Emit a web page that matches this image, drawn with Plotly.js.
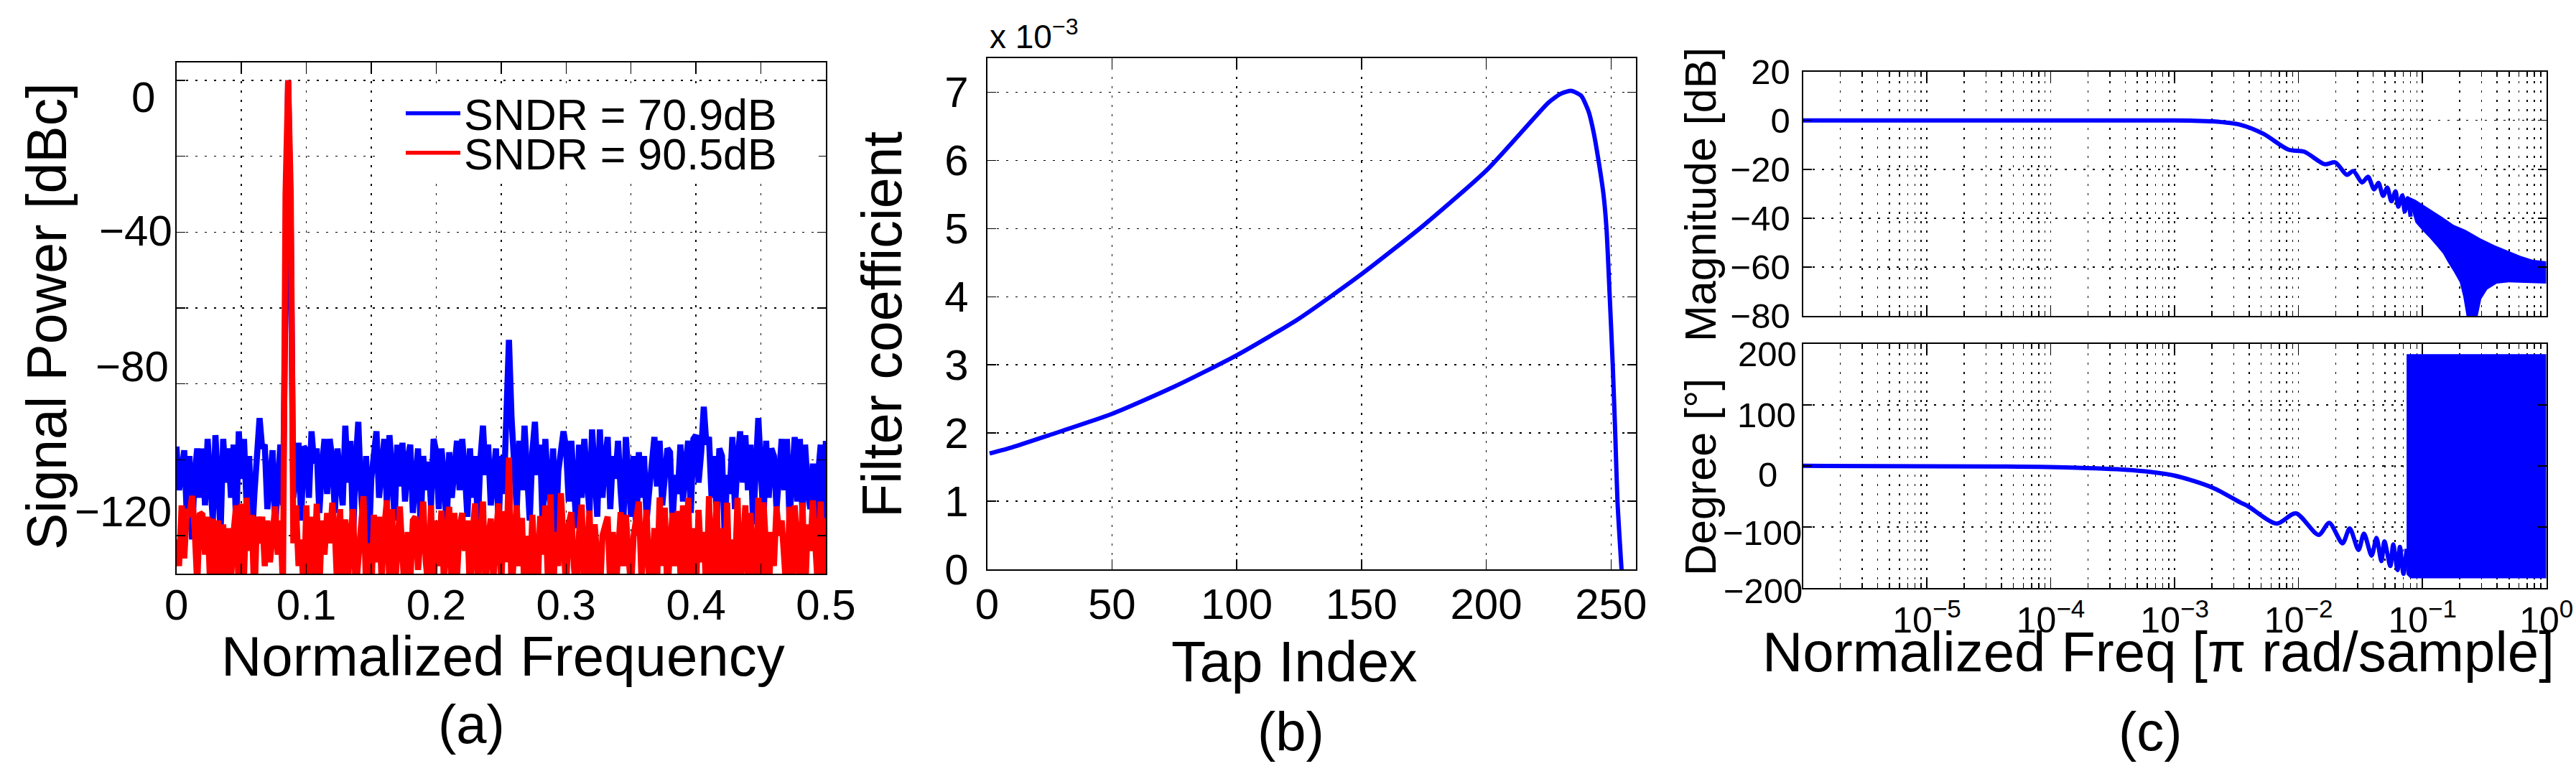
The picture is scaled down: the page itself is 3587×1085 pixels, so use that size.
<!DOCTYPE html>
<html><head><meta charset="utf-8">
<script src="https://cdn.plot.ly/plotly-3.0.1.min.js"></script>
<style>html,body{margin:0;padding:0;background:#fff;overflow:hidden}</style>
</head><body><div id="chart" style="width:3587px;height:1085px"></div>
<script>
// (a) spectrum, one value every 0.002 of normalized frequency
const blueSpectrum = [
-96.5,-108,-103,-97.5,-115,-99,-121,-104,-97,-110,
-97,-112,-94.5,-104,-116,-93.5,-108,-119,-94.5,-106,
-97,-110,-96,-118,-92.5,-105,-94.5,-112,-99,-122,
-109,-100,-89,-97,-96,-113,-104,-97.5,-118,-105,
-96,-112,-40,0,-40,-110,-103,-95.5,-116,-96.5,
-97.5,-110,-92.5,-101,-97,-114,-102,-94.5,-109,-94.5,
-100,-114,-97,-105,-112,-91,-106,-95,-120,-101,
-90,-108,-118,-99,-124,-105,-97,-92.5,-110,-101,
-94.5,-112,-93.5,-103,-116,-96,-107,-95.5,-111,-100,
-96,-114,-103,-97,-118,-99,-108,-100.5,-112,-94.5,
-98,-113,-97,-104,-118,-98,-110,-101,-95,-108,
-94.5,-103,-115,-97,-110,-99,-117,-100,-91,-104,
-96,-112,-102,-97,-118,-99,-109,-90,-68.4,-89,
-100,-113,-95,-108,-91,-105,-116,-98,-90,-104,
-96,-118,-94.5,-107,-112,-97,-120,-103,-98,-92.5,
-97,-111,-95,-108,-118,-96,-110,-94.5,-105,-114,
-92,-107,-115,-92,-110,-100,-94,-113,-99,-105,
-95,-108,-118,-94,-104,-115,-99,-120,-98,-110,
-99,-116,-108,-101,-94,-107,-95,-112,-103,-97,
-98,-116,-104,-109,-96,-111,-101,-95,-114,-94.5,
-93.5,-106,-98,-86,-96,-94,-110,-99,-115,-97,
-99,-119,-104,-109,-94,-113,-100,-92.5,-106,-93.5,
-108,-96,-117,-98,-89,-103,-116,-95,-110,-97,
-99,-113,-104,-94.5,-108,-94.5,-116,-101,-94,-111,
-94.5,-115,-96,-107,-113,-101,-116,-104,-96,-123,-95];
const redSpectrum = [
-121,-128,-112,-126,-113,-115,-109.5,-118,-133,-114,
-114.5,-125,-115,-134,-115.5,-135,-116,-133,-117,-136,
-118,-132,-119,-112,-136,-111.6,-131,-110,-124,-114.5,
-138,-115,-122,-115,-128,-116,-127,-117,-112.3,-125,
-116,-134,-30,0,-30,-122,-112,-128,-121,-136,
-112,-133,-115,-130,-111.6,-135,-116,-125,-114,-122,
-111.3,-119,-136,-113,-135,-115.7,-133,-120,-113,-135,
-124,-118,-109.6,-134,-122,-136,-114.5,-127,-115,-132,
-118,-110.7,-134,-113,-136,-120,-112.3,-125,-137,-119,
-133,-116,-115,-129,-118,-111,-127,-134,-112,-136,
-116,-128,-113.4,-133,-119,-112.4,-135,-114,-131,-118,
-114,-124,-116,-136,-119,-111.5,-134,-118,-111,-135,
-121,-115.5,-132,-120,-111.5,-134,-113.5,-127,-99.4,-136,
-124,-112,-128,-115.3,-136,-120,-134,-114.5,-127,-136,
-114.8,-125,-112,-132,-109.1,-136,-119,-128,-108.8,-123,
-134,-117,-113.8,-128,-136,-119,-111.8,-135,-122,-113.4,
-133,-117,-126,-136,-120,-118,-115,-134,-119,-136,
-122,-113.8,-128,-114.5,-125,-134,-120,-116,-111,-131,
-121,-113.2,-135,-129,-118,-133,-109.9,-128,-112.6,-136,
-123,-114,-128,-113.5,-130,-112,-136,-110,-134,-118,
-135,-113.2,-127,-119,-136,-109.6,-134,-120,-111,-137,
-118,-133,-111.3,-136,-121,-130,-110,-136,-123,-112,
-131,-114,-128,-135,-110,-136,-111.2,-126,-136,-119,
-128,-112.3,-120,-116,-125,-137,-112.4,-135,-112,-129,
-134,-111.3,-136,-117,-124,-110.7,-129,-135,-111,-133,-115.4];
const normFreq = blueSpectrum.map((_, i) => +(i * 0.002).toFixed(3));
const freqTicks = [0,0.1,0.2,0.3,0.4,0.5];
const freqTickText = ['0','0.1','0.2','0.3','0.4','0.5'];
const powerGrid = [0,-20,-40,-60,-80,-100,-120];
const powerLabels = ['0','−40','−80','−120'];

// (b) filter coefficients
const tapIndex = [1,10,25,50,75,100,125,150,175,200,215,225,230,234,238,241,243,245,247,248.2,249.5,250.7,251.7,252.6,254.4];
const tapCoef  = [1.70,1.79,1.97,2.28,2.68,3.14,3.68,4.33,5.05,5.85,6.45,6.85,6.98,7.02,6.95,6.72,6.42,6.0,5.5,5.0,4.0,3.0,2.0,1.0,-0.1];

// (c) magnitude response
const magFreq = [1e-6,1e-4,1e-3,0.00135,0.00204,0.0034,0.00521,0.00832,0.01112,0.01622,0.01982,0.02455,0.02767,0.03258,0.03639,0.04074,0.04416,0.04819,0.052,0.05623,0.06067,0.06383,0.06887,0.07194,0.07586,0.08035];
const magDb   = [0,0,0,-0.1,-0.4,-1.8,-5.5,-12,-12.8,-17.9,-17.2,-22.3,-20.7,-25.4,-23.1,-28.2,-25.6,-30.9,-27.5,-33.1,-29,-35.3,-30.7,-37.3,-31.9,-39.4];
const magUpperFreq = [0.0879,0.1005,0.12,0.1432,0.179,0.2234,0.2917,0.381,0.4977,0.621,0.776,1];
const magUpperDb   = [-32.5,-34.5,-36.9,-39.4,-42.8,-44.8,-48.2,-51.1,-53.6,-55.5,-57,-57.7];
const magLowerFreq = [1,0.679,0.4977,0.398,0.3334,0.2985,0.2767,0.2286,0.2138,0.2,0.179,0.16,0.1466,0.1312,0.1148,0.1005,0.0879,0.07586];
const magLowerDb   = [-66.8,-66.5,-66.3,-66.8,-69.2,-73.1,-81,-81,-72.2,-66.3,-61.9,-58,-54.5,-51.6,-48.2,-45.2,-41.8,-31];

// (c) phase response
const phaseFreq = [1e-6,3.59e-5,1.633e-4,4.49e-4,1e-3,2.04e-3,3.39e-3,3.91e-3,6.67e-3,9.51e-3,0.01452,0.0177,0.02265,0.02588,0.03048,0.03373,0.0389,0.04256,0.04667,0.04932,0.05508,0.05808,0.06295,0.06577,0.07031,0.0745];
const phaseDeg  = [0,-1,-3,-7,-16,-36,-60,-66,-94.6,-77.7,-113,-93.4,-126.7,-102.4,-137.6,-111,-147,-118,-156,-123.5,-164,-128.6,-170.5,-132.6,-176.8,-136];
const phaseBlockFreq = [0.0745,1,1,0.08,0.0745];
const phaseBlockDeg  = [182.8,182.8,-184,-184,-178];
const phaseLabels = ['200','100','0','−100','−200'];

const logTicks = [1e-5,1e-4,1e-3,1e-2,1e-1,1];
const logTickText = ['10<sup>−5</sup>','10<sup>−4</sup>','10<sup>−3</sup>','10<sup>−2</sup>','10<sup>−1</sup>','10<sup>0</sup>'];

const W = 3587, H = 1085;
const FONT = 'Liberation Sans, Arial, sans-serif';
const BLUE = '#0000ff', RED = '#ff0000';
const px = x => x / W, py = y => 1 - y / H;
const dom = (a, b) => [a / W, b / W];
const domY = (top, bot) => [1 - bot / H, 1 - top / H];
const GRID = {showgrid: true, gridcolor: '#000', gridwidth: 1.5, griddash: '3px,10px'};

function axis(extra) {
  return Object.assign({
    showline: true, mirror: 'ticks', linecolor: '#000', linewidth: 2,
    ticks: 'inside', tickcolor: '#000', tickwidth: 1.5, ticklen: 12,
    zeroline: false, tickfont: {family: FONT, size: 60, color: '#000'}
  }, GRID, extra);
}
function logAxis(extra) {
  return axis(Object.assign({
    type: 'log', range: [-6, 0], tickmode: 'array', tickvals: logTicks, ticktext: logTickText,
    tickfont: {family: FONT, size: 50, color: '#000'}, ticklen: 13,
    minor: Object.assign({dtick: 'D1', ticks: 'inside', ticklen: 7, tickwidth: 1.5, tickcolor: '#000'}, GRID)
  }, extra));
}
function note(text, x, y, size, opt) {
  return Object.assign({text, xref: 'paper', yref: 'paper', x: px(x), y: py(y), showarrow: false,
    xanchor: 'center', yanchor: 'middle', font: {family: FONT, size, color: '#000'}}, opt || {});
}

const thickA = 8.5, thick = 6, legendThick = 5.5;
const traces = [
  {x: normFreq, y: blueSpectrum, xaxis: 'x', yaxis: 'y', mode: 'lines', showlegend: false,
   line: {color: BLUE, width: thickA}},
  {x: normFreq, y: redSpectrum, xaxis: 'x', yaxis: 'y', mode: 'lines', showlegend: false,
   line: {color: RED, width: thickA}},
  {x: [null], y: [null], xaxis: 'x', yaxis: 'y', mode: 'lines', name: 'SNDR = 70.9dB',
   line: {color: BLUE, width: legendThick}, legend: 'legend'},
  {x: [null], y: [null], xaxis: 'x', yaxis: 'y', mode: 'lines', name: 'SNDR = 90.5dB',
   line: {color: RED, width: legendThick}, legend: 'legend2'},
  {x: tapIndex, y: tapCoef, xaxis: 'x2', yaxis: 'y2', mode: 'lines', showlegend: false,
   line: {color: BLUE, width: thick, shape: 'spline', smoothing: 0.6}},
  {x: magFreq, y: magDb, xaxis: 'x3', yaxis: 'y3', mode: 'lines', showlegend: false,
   line: {color: BLUE, width: thick, shape: 'spline', smoothing: 0.8}},
  {x: magUpperFreq.concat(magLowerFreq), y: magUpperDb.concat(magLowerDb), xaxis: 'x3', yaxis: 'y3',
   mode: 'lines', fill: 'toself', fillcolor: BLUE, showlegend: false, line: {color: BLUE, width: 0}},
  {x: phaseFreq, y: phaseDeg, xaxis: 'x4', yaxis: 'y4', mode: 'lines', showlegend: false,
   line: {color: BLUE, width: thick, shape: 'spline', smoothing: 0.8}},
  {x: phaseBlockFreq, y: phaseBlockDeg, xaxis: 'x4', yaxis: 'y4', mode: 'lines', fill: 'toself',
   fillcolor: BLUE, showlegend: false, line: {color: BLUE, width: 0}}
];

const powerLabelPos = [[199,135],[189.4,321.7],[183.7,510.5],[171,712.5]];
const phaseLabelPos = [[2461,492.6],[2460,577.7],[2461,660.7],[2454,741.6],[2454.5,823]];

const annotations = [
  ...powerLabels.map((t, i) => note(t, powerLabelPos[i][0], powerLabelPos[i][1], 60)),
  ...phaseLabels.map((t, i) => note(t, phaseLabelPos[i][0], phaseLabelPos[i][1], 49)),
  note('(a)', 656, 1008, 76),
  note('(b)', 1797, 1018, 76),
  note('(c)', 2994, 1018, 76),
  note('Normalized Frequency', 700, 914, 78),
  note('Tap Index', 1802, 921, 79),
  note('Normalized Freq [π rad/sample]', 3005, 908, 78),
  note('Signal Power [dBc]', 65, 441, 77, {textangle: -90}),
  note('Filter coefficient', 1228, 452, 77, {textangle: -90}),
  note('Magnitude [dB]', 2368, 271, 61, {textangle: -90}),
  note('Degree [°]', 2368, 665, 61, {textangle: -90}),
  note('x 10<sup>−3</sup>', 1376, 48, 46, {xanchor: 'left'})
];

const legendBase = {bgcolor: 'rgba(0,0,0,0)', borderwidth: 0, itemwidth: 76, xanchor: 'left', yanchor: 'middle',
  font: {family: FONT, size: 61, color: '#000'}};

const layout = {
  width: W, height: H, autosize: false, margin: {l: 0, r: 0, t: 0, b: 0, pad: 0},
  paper_bgcolor: '#fff', plot_bgcolor: '#fff', showlegend: true,
  legend: Object.assign({x: px(560), y: py(158)}, legendBase),
  legend2: Object.assign({x: px(560), y: py(213)}, legendBase),
  xaxis: axis({domain: dom(245.7, 1150), range: [0, 0.5], tickmode: 'array', tickvals: freqTicks, ticktext: freqTickText, ticklen: 14, anchor: 'y', ticklabelstandoff: -10,
    minor: Object.assign({dtick: 0.05, ticks: 'inside', ticklen: 14, tickwidth: 1.5, tickcolor: '#000'}, GRID)}),
  yaxis: axis({domain: domY(86.5, 799), range: [-130, 4.8], tickmode: 'array', tickvals: powerGrid, showticklabels: false, anchor: 'x'}),
  xaxis2: axis({domain: dom(1374.5, 2278), range: [0, 260], tickmode: 'array', tickvals: [0,50,100,150,200,250], ticklen: 14, anchor: 'y2', ticklabelstandoff: -5}),
  yaxis2: axis({domain: domY(81, 793), range: [0, 7.5], tickmode: 'array', tickvals: [0,1,2,3,4,5,6,7], anchor: 'x2', ticklabelstandoff: 12}),
  xaxis3: logAxis({domain: dom(2510.5, 3545.7), anchor: 'y3', showticklabels: false}),
  yaxis3: axis({domain: domY(99.6, 440), range: [-80, 20], tickmode: 'array', tickvals: [20,0,-20,-40,-60,-80], anchor: 'x3', tickfont: {family: FONT, size: 49, color: '#000'}, ticklabelstandoff: 6}),
  xaxis4: logAxis({domain: dom(2510.5, 3545.7), anchor: 'y4', ticklabelstandoff: 0}),
  yaxis4: axis({domain: domY(478.7, 819), range: [-200, 200], tickmode: 'array', tickvals: [200,100,0,-100,-200], showticklabels: false, anchor: 'x4'}),
  shapes: [{type: 'rect', xref: 'paper', yref: 'paper', x0: px(528), x1: px(1140), y0: py(256), y1: py(117.6),
            fillcolor: '#fff', line: {width: 0}, layer: 'above'}],
  annotations
};
Plotly.newPlot('chart', traces, layout, {displayModeBar: false, staticPlot: true});
</script></body></html>
